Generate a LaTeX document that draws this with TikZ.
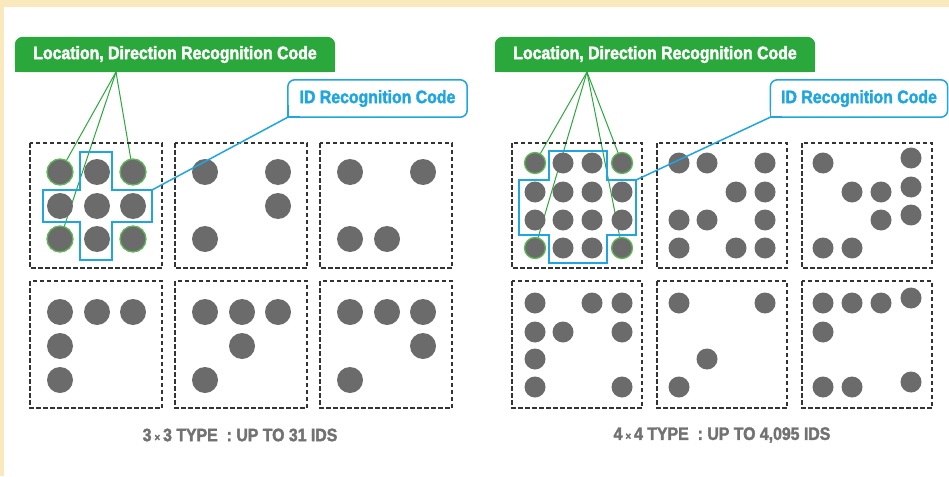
\documentclass[tikz,border=0pt]{standalone}
\usepackage{fontspec}
\newfontfamily\labelfont{Liberation Sans}[UprightFont={* Bold},FakeStretch=0.88,FakeBold=2]
\usetikzlibrary{backgrounds}
\definecolor{codegreen}{HTML}{2BA83C}
\definecolor{ringgreen}{HTML}{5DB955}
\definecolor{codeblue}{HTML}{1FA6E0}
\definecolor{dotgray}{HTML}{6B6B6B}
\definecolor{capgray}{HTML}{727272}
\definecolor{paper}{HTML}{FBE9BE}

\begin{document}
\begin{tikzpicture}[x=1pt,y=-1pt,
    bigdot/.style={circle,fill=dotgray,inner sep=0pt,minimum size=26pt},
    smalldot/.style={circle,fill=dotgray,inner sep=0pt,minimum size=21pt},
    ring/.style={ringgreen,line width=1.3pt},
    cell/.style={draw=black!80,line width=1.3pt,dash pattern=on 4.5pt off 2.5pt},
    greenline/.style={codegreen,line width=1pt},
    blueline/.style={codeblue,line width=1.5pt},
    greentag/.style={minimum width=320pt,minimum height=35pt,inner sep=0pt,text=white,
      font=\labelfont\fontsize{18}{20}\selectfont},
    bluetag/.style={minimum height=37pt,inner sep=0pt,text=codeblue,
      font=\labelfont\fontsize{18}{20}\selectfont},
    caption/.style={text=capgray,font=\labelfont\fontsize{18}{20}\selectfont}]
\useasboundingbox (0,0) rectangle (949,476);

% dashed cells
\foreach \x in {30,175,320}
  \foreach \y/\h in {143/125,281/127}
    \draw[cell] (\x,\y) rectangle ++(132,\h);
\foreach \x in {512,657,802}
  \foreach \y/\h in {143/125,281/127}
    \draw[cell] (\x,\y) rectangle ++(130,\h);

% 3x3 type
\foreach \c/\x in {1/60,2/97,3/133}
  \foreach \r/\y in {1/172,2/206,3/239}
    \node[bigdot] (a\c\r) at (\x,\y) {};
\foreach \n in {a11,a31,a13,a33}
  \draw[ring] (\n) circle (13pt);
\foreach \Point [count=\i] in {(205,172),(278,172),(278,206),(205,239)}
  \node[bigdot] (b\i) at \Point {};
\foreach \Point [count=\i] in {(350,172),(423,172),(350,239),(387,239)}
  \node[bigdot] (c\i) at \Point {};
\foreach \Point [count=\i] in {(60,312),(97,312),(133,312),(60,346),(60,380)}
  \node[bigdot] (d\i) at \Point {};
\foreach \Point [count=\i] in {(205,312),(242,312),(278,312),(242,346),(205,380)}
  \node[bigdot] (e\i) at \Point {};
\foreach \Point [count=\i] in {(350,312),(387,312),(423,312),(423,346),(350,380)}
  \node[bigdot] (f\i) at \Point {};

% 4x4 type
\foreach \c/\x in {1/535,2/563,3/592,4/622}
  \foreach \r/\y in {1/163,2/192,3/220,4/248}
    \node[smalldot] (m\c\r) at (\x,\y) {};
\foreach \n in {m11,m41,m14,m44}
  \draw[ring] (\n) circle (10.5pt);
\foreach \Point [count=\i] in {(679,163),(707,163),(765,163),(736,192),(765,192),
    (679,220),(707,220),(765,220),(679,248),(736,248),(765,248)}
  \node[smalldot] (n\i) at \Point {};
\foreach \Point [count=\i] in {(823,163),(911,158),(852,192),(881,192),(911,187),
    (881,220),(911,215),(823,248),(852,248)}
  \node[smalldot] (o\i) at \Point {};
\foreach \Point [count=\i] in {(535,303),(592,303),(622,303),(535,332),(563,332),
    (622,332),(535,359),(535,387),(622,387)}
  \node[smalldot] (p\i) at \Point {};
\foreach \Point [count=\i] in {(679,303),(765,303),(707,359),(679,387)}
  \node[smalldot] (q\i) at \Point {};
\foreach \Point [count=\i] in {(823,303),(852,303),(881,303),(911,298),(823,332),
    (823,387),(852,387),(911,382)}
  \node[smalldot] (r\i) at \Point {};

% ID outlines
\draw[blueline] (80,152) -- (112,152) -- (112,190) -- (152,190) -- (152,222) -- (112,222)
  -- (112,260) -- (80,260) -- (80,222) -- (43,222) -- (43,190) -- (80,190) -- cycle;
\draw[blueline] (549,151) -- (607,151) -- (607,180) -- (636,180) -- (636,235) -- (607,235)
  -- (607,263) -- (549,263) -- (549,235) -- (519,235) -- (519,180) -- (549,180) -- cycle;
\coordinate (x3) at (152,190);
\coordinate (x4) at (636,180);

% tags
\node[greentag] (loc3) at (175,54.5) {Location, Direction Recognition Code};
\node[greentag] (loc4) at (655,54.5) {Location, Direction Recognition Code};
\node[bluetag,minimum width=179pt] (id3) at (377.5,98.5) {ID Recognition Code};
\node[bluetag,minimum width=177pt] (id4) at (859,98.5) {ID Recognition Code};
\coordinate (g3) at (116,72);
\coordinate (g4) at (587,72);

\begin{pgfonlayer}{background}
  \fill[paper] (0,0) rectangle (949,476);
  \fill[white] (4,7) rectangle (949,476);
  \foreach \t in {loc3,loc4} {
    \fill[codegreen,rounded corners=8pt] (\t.south west) rectangle (\t.north east);
    \fill[codegreen] (\t.west) rectangle (\t.south east);
  }
  \foreach \t in {id3,id4} {
    \draw[blueline,fill=white,rounded corners=7pt] (\t.south west) rectangle (\t.north east);
    \fill[white] (\t.south west) rectangle ++(10,-10);
    \draw[blueline] (\t.south west) ++(0,-12) -- ++(0,12) -- ++(12,0);
  }
  \foreach \n in {a11,a31,a13}
    \draw[greenline] (g3) -- (\n);
  \foreach \n in {m11,m41,m14,m44}
    \draw[greenline] (g4) -- (\n);
\end{pgfonlayer}
\draw[blueline] (id3.south west) -- (x3);
\draw[blueline] (id4.south west) -- (x4);

% captions
\node[caption] (cap3) at (240,435) {3\,{\fontsize{11}{12}\selectfont×}\,3 TYPE\enspace: UP TO 31 IDS};
\node[caption] (cap4) at (722,435) {4\,{\fontsize{11}{12}\selectfont×}\,4 TYPE\enspace: UP TO 4,095 IDS};
\end{tikzpicture}
\end{document}
